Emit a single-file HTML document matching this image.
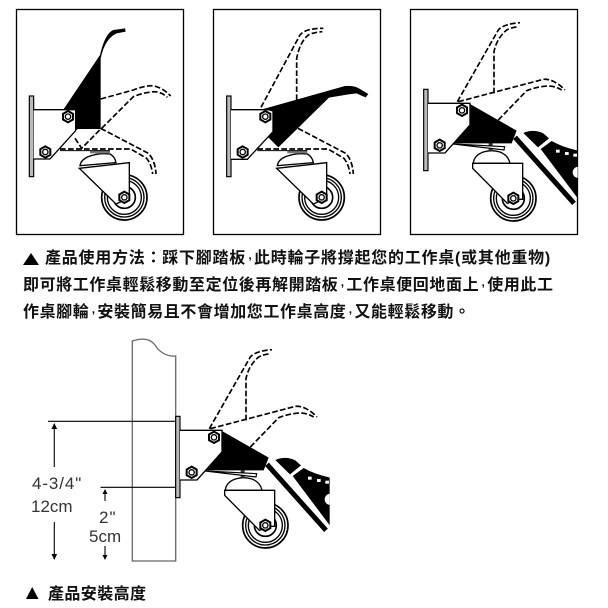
<!DOCTYPE html>
<html><head><meta charset="utf-8">
<style>
html,body{margin:0;padding:0;background:#fff;width:608px;height:608px;overflow:hidden}
.t{position:absolute;white-space:nowrap;font-family:"Liberation Sans","Noto Sans CJK TC",sans-serif;font-weight:700;font-size:16px;line-height:20px;color:#111;letter-spacing:.6px}
.c{display:inline-block;width:8px;position:relative;top:-4px;letter-spacing:0;text-align:center;font-size:12px}
.n{position:absolute;white-space:nowrap;font-family:"Liberation Sans",sans-serif;font-size:17px;line-height:20px;color:#333}
svg{position:absolute;left:0;top:0}
</style></head><body>
<svg width="608" height="608" viewBox="0 0 608 608">
<defs>
<g id="bolt"><polygon points="0,-17 15,-8.500 15,8.500 0,17 -15,8.500 -15,-8.500" fill="#fff" stroke="#000" stroke-width="6"/><circle r="8" fill="#fff" stroke="#000" stroke-width="4"/></g>
<g id="wheel" fill="#fff" stroke="#000"><circle r="68" stroke-width="5"/><circle r="59" stroke-width="4"/><circle r="51" stroke-width="4"/><circle r="33" stroke-width="5"/></g>
<g id="lowGhost" fill="none" stroke="#000" stroke-width="5" stroke-dasharray="17 7"><path d="M272,385 L415,460 Q435,480 438,522"/><path d="M150,447 H362 L410,475 Q425,495 428,522"/></g>
<clipPath id="cp3"><rect x="30" y="20" width="503" height="680"/></clipPath>
<g id="p3">
 <rect x="71" y="268" width="13" height="244" fill="#bbb" stroke="#000" stroke-width="3.500"/>
 <use href="#wheel" x="340" y="595"/>
 <path d="M220,490 Q222,466 250,456 Q275,448 300,456 Q325,466 330,490Z" fill="#fff" stroke="#000" stroke-width="4"/>
 <path d="M218,505 L218,490 H368 V598 H356 L322,610 Z" fill="#fff" stroke="#000" stroke-width="4"/>
 <use href="#bolt" x="340" y="595"/>
 <rect x="266" y="428" width="12" height="24" fill="#333"/>
 <path d="M84,310 H210 V375 L135,459 H84" fill="#fff" stroke="#000" stroke-width="4"/>
 <path d="M210,312 L350,392 L335,430 H160 L210,375Z" fill="#000"/>
 <path d="M160,432 L314,440 L312,450 Z" fill="#fff" stroke="#000" stroke-width="3.500"/>
 <use href="#bolt" x="186" y="331"/><use href="#bolt" x="119" y="436"/>
 <g fill="none" stroke="#000" stroke-width="5" stroke-dasharray="17 7">
  <path d="M172,305 L295,90 Q310,72 360,68"/><path d="M282,280 V155 Q290,115 320,90 Q335,82 355,80"/>
  <path d="M175,305 L430,238 Q460,235 495,270"/><path d="M295,360 L380,272 Q410,260 445,258 Q465,258 485,270"/>
 </g>
 <g clip-path="url(#cp3)">
  <path d="M345,412 L522,610" stroke="#000" stroke-width="15" fill="none"/>
  <path d="M370,399 Q400,386 430,400 L447,415 L414,442Z" fill="#000"/>
  <path d="M422,447 L455,423 Q490,443 540,453 V604 Z" fill="#000"/>
  <circle cx="535" cy="517" r="17" fill="#fff"/>
  <g fill="#fff"><rect x="468" y="449" width="11" height="9"/><rect x="495" y="456" width="11" height="9"/><rect x="520" y="461" width="11" height="9"/></g>
 </g>
</g>
</defs>
<g fill="none" stroke="#000" stroke-width="1.300">
<rect x="16.500" y="9.500" width="167" height="225"/>
<rect x="213.500" y="9.500" width="167" height="225"/>
<rect x="410.500" y="9.500" width="167" height="225"/>
</g>

<g transform="translate(10,0) scale(.33333)">
 <rect x="58" y="288" width="13" height="242" fill="#bbb" stroke="#000" stroke-width="3.500"/>
 <use href="#wheel" x="343" y="592"/>
 <path d="M210,497 Q212,480 235,470 Q265,458 300,462 Q315,470 318,488Z" fill="#fff" stroke="#000" stroke-width="4"/>
 <path d="M208,505 L358,488 V590 L345,600 L318,612Z" fill="#fff" stroke="#000" stroke-width="4"/>
 <use href="#bolt" x="343" y="592"/>
 <rect x="240" y="452" width="60" height="8" fill="#777"/>
 <path d="M71,329 H197 V392 L120,477 H71" fill="#fff" stroke="#000" stroke-width="4"/>
 <path d="M160,329 L270,165 Q285,100 310,90 L345,85 L347,95 L320,100 Q285,115 272,175 V387 H203 L197,392 V329Z" fill="#000"/>
 <use href="#bolt" x="174" y="350"/><use href="#bolt" x="106" y="456"/>
 <use href="#lowGhost"/>
 <g fill="none" stroke="#000" stroke-width="5" stroke-dasharray="17 7">
  <path d="M272,297 L370,270 Q400,258 425,257 Q455,260 482,288"/>
  <path d="M275,385 L370,290 Q400,278 430,275 Q455,275 472,292"/>
  <path d="M195,415 L215,445 L272,387"/>
 </g>
 <path d="M150,452 H300" stroke="#000" stroke-width="3"/>
</g>

<g transform="translate(205,0) scale(.33333)">
 <rect x="65" y="288" width="13" height="242" fill="#bbb" stroke="#000" stroke-width="3.500"/>
 <use href="#wheel" x="350" y="592"/>
 <path d="M217,497 Q219,480 242,470 Q272,458 307,462 Q322,470 325,488Z" fill="#fff" stroke="#000" stroke-width="4"/>
 <path d="M215,505 L365,488 V590 L352,600 L325,612Z" fill="#fff" stroke="#000" stroke-width="4"/>
 <use href="#bolt" x="350" y="592"/>
 <rect x="247" y="452" width="60" height="8" fill="#777"/>
 <path d="M78,329 H204 V395 L127,478 H78" fill="#fff" stroke="#000" stroke-width="4"/>
 <path d="M175,327 L420,258 Q450,255 470,270 L490,282 L482,292 Q465,285 455,280 L430,283 L372,293 L220,442 L190,412 L204,395 V335Z" fill="#000"/>
 <use href="#bolt" x="181" y="350"/><use href="#bolt" x="113" y="456"/>
 <use href="#lowGhost" x="7"/>
 <g fill="none" stroke="#000" stroke-width="5" stroke-dasharray="17 7">
  <path d="M168,322 L285,105 Q300,85 355,85"/>
  <path d="M275,300 V175 Q285,125 310,105 Q325,97 352,95"/>
 </g>
 <path d="M157,452 H307" stroke="#000" stroke-width="3"/>
</g>

<g transform="translate(400,0) scale(.33333)"><use href="#p3"/></g>

<polygon points="23,265 39,265 31,253" fill="#000"/>

<!-- install diagram -->
<g fill="none" stroke="#666" stroke-width="1.300">
 <path d="M132.300,341 Q150,335 157,348 Q165,357 175.700,356 V561 H132.300Z" fill="#fff"/>
</g>
<g transform="translate(152,327) scale(.33333)"><use href="#p3"/></g>
<g stroke="#000" stroke-width="1.100" fill="none">
 <path d="M48,421.300 H176"/><path d="M100.500,487.300 H176"/>
 <path d="M54.300,424 V467"/><path d="M54.300,522 V559"/>
 <path d="M105,490 V501"/><path d="M105,546 V559"/>
</g>
<g fill="#000">
 <polygon points="54.300,423 51.500,429 57.100,429"/><polygon points="54.300,560 51.500,554 57.100,554"/>
 <polygon points="105,489 102.500,494 107.500,494"/><polygon points="105,560 102.500,555 107.500,555"/>
</g>
<polygon points="26,599 38.500,599 32.200,587" fill="#000"/>
</svg>

<div class="t" style="left:45px;top:249px;letter-spacing:.75px">產品使用方法：踩下腳踏板<span class="c">,</span>此時輪子將撐起您的工作桌(或其他重物)</div>
<div class="t" style="left:23px;top:276px">即可將工作桌輕鬆移動至定位後再解開踏板<span class="c">,</span>工作桌便回地面上<span class="c">,</span>使用此工</div>
<div class="t" style="left:23px;top:303px">作桌腳輪<span class="c">,</span>安裝簡易且不會增加您工作桌高度<span class="c">,</span>又能輕鬆移動。</div>
<div class="n" style="left:32px;top:474px;letter-spacing:.9px">4-3/4"</div>
<div class="n" style="left:31px;top:497px">12cm</div>
<div class="n" style="left:99px;top:508px;letter-spacing:1px">2"</div>
<div class="n" style="left:89px;top:527px">5cm</div>
<div class="t" style="left:48px;top:585px;letter-spacing:.4px">產品安裝高度</div>
</body></html>
